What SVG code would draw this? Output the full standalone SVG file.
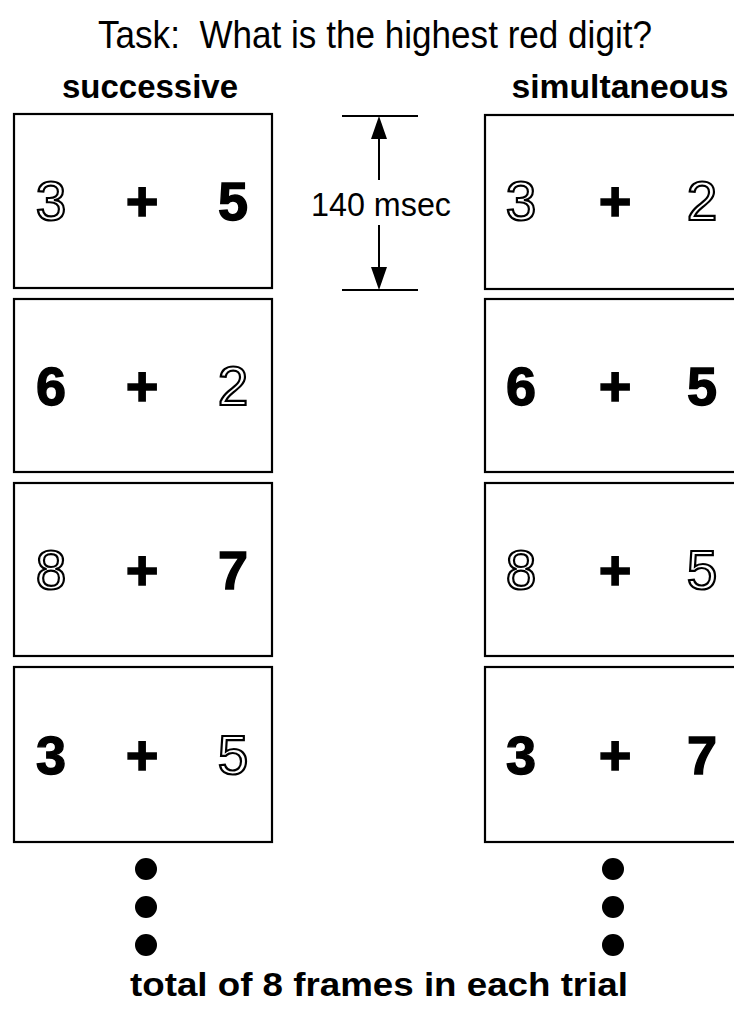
<svg xmlns="http://www.w3.org/2000/svg" width="734" height="1013" viewBox="0 0 734 1013">
<style>
.frame{fill:#fff;stroke:#000;stroke-width:2.2}
.bd{font-family:"Liberation Sans",Arial,sans-serif;font-weight:bold;font-size:54px;fill:#000;stroke:#000;stroke-width:1.4;text-anchor:middle}
.pl{font-family:"Liberation Sans",Arial,sans-serif;font-weight:bold;font-size:56px;fill:#000;stroke:#000;stroke-width:1.5;text-anchor:middle}
.ol{font-family:"Liberation Sans",Arial,sans-serif;font-weight:normal;font-size:55px;fill:#fff;stroke:#000;stroke-width:2.2;text-anchor:middle}
.hd{font-family:"Liberation Sans",Arial,sans-serif;font-weight:bold;font-size:34px;fill:#000;text-anchor:middle}
.lbl{font-family:"Liberation Sans",Arial,sans-serif;font-size:34px;fill:#000;text-anchor:middle}
.dim{stroke:#000;stroke-width:2;fill:none}
.dot{fill:#000}
</style>
<rect width="734" height="1013" fill="#fff"/>
<text id="title" x="98" y="48" font-family="Liberation Sans, Arial, sans-serif" font-size="39" textLength="554" lengthAdjust="spacingAndGlyphs" xml:space="preserve">Task:  What is the highest red digit?</text>
<text id="h-successive" class="hd" x="150" y="98" textLength="176" lengthAdjust="spacingAndGlyphs">successive</text>
<text id="h-simultaneous" class="hd" x="620" y="98" textLength="217" lengthAdjust="spacingAndGlyphs">simultaneous</text>

<g id="s1"><rect class="frame" x="14" y="114" width="258" height="174"/><text class="ol" x="51" y="220">3</text><text class="pl" x="142" y="220">+</text><text class="bd" x="233" y="220">5</text></g>
<g id="s2"><rect class="frame" x="14" y="299" width="258" height="173"/><text class="bd" x="51" y="405">6</text><text class="pl" x="142" y="405">+</text><text class="ol" x="233" y="405">2</text></g>
<g id="s3"><rect class="frame" x="14" y="483" width="258" height="173"/><text class="ol" x="51" y="589">8</text><text class="pl" x="142" y="589">+</text><text class="bd" x="233" y="589">7</text></g>
<g id="s4"><rect class="frame" x="14" y="667" width="258" height="175"/><text class="bd" x="51" y="774">3</text><text class="pl" x="142" y="774">+</text><text class="ol" x="233" y="774">5</text></g>

<g id="m1"><rect class="frame" x="485" y="115" width="262" height="174"/><text class="ol" x="521" y="220">3</text><text class="pl" x="615" y="220">+</text><text class="ol" x="702" y="220">2</text></g>
<g id="m2"><rect class="frame" x="485" y="299" width="262" height="173"/><text class="bd" x="521" y="405">6</text><text class="pl" x="615" y="405">+</text><text class="bd" x="702" y="405">5</text></g>
<g id="m3"><rect class="frame" x="485" y="483" width="262" height="173"/><text class="ol" x="521" y="589">8</text><text class="pl" x="615" y="589">+</text><text class="ol" x="702" y="589">5</text></g>
<g id="m4"><rect class="frame" x="485" y="667" width="262" height="175"/><text class="bd" x="521" y="774">3</text><text class="pl" x="615" y="774">+</text><text class="bd" x="702" y="774">7</text></g>

<g id="connectors">
<line class="dim" x1="342" y1="116" x2="418" y2="116"/>
<line class="dim" x1="342" y1="290" x2="418" y2="290"/>
<line class="dim" x1="379" y1="136" x2="379" y2="180"/>
<line class="dim" x1="379" y1="225" x2="379" y2="270"/>
<polygon points="379,116 371,139 387,139"/>
<polygon points="379,290 371,267 387,267"/>
</g>
<text id="dim-label" class="lbl" x="381" y="216" textLength="140" lengthAdjust="spacingAndGlyphs">140 msec</text>

<g id="dots-left"><circle class="dot" cx="146" cy="869" r="11"/><circle class="dot" cx="146" cy="907" r="11"/><circle class="dot" cx="146" cy="945" r="11"/></g>
<g id="dots-right"><circle class="dot" cx="613" cy="869" r="11"/><circle class="dot" cx="613" cy="907" r="11"/><circle class="dot" cx="613" cy="945" r="11"/></g>
<text id="footer" class="hd" x="379" y="996" textLength="498" lengthAdjust="spacingAndGlyphs">total of 8 frames in each trial</text>
</svg>
